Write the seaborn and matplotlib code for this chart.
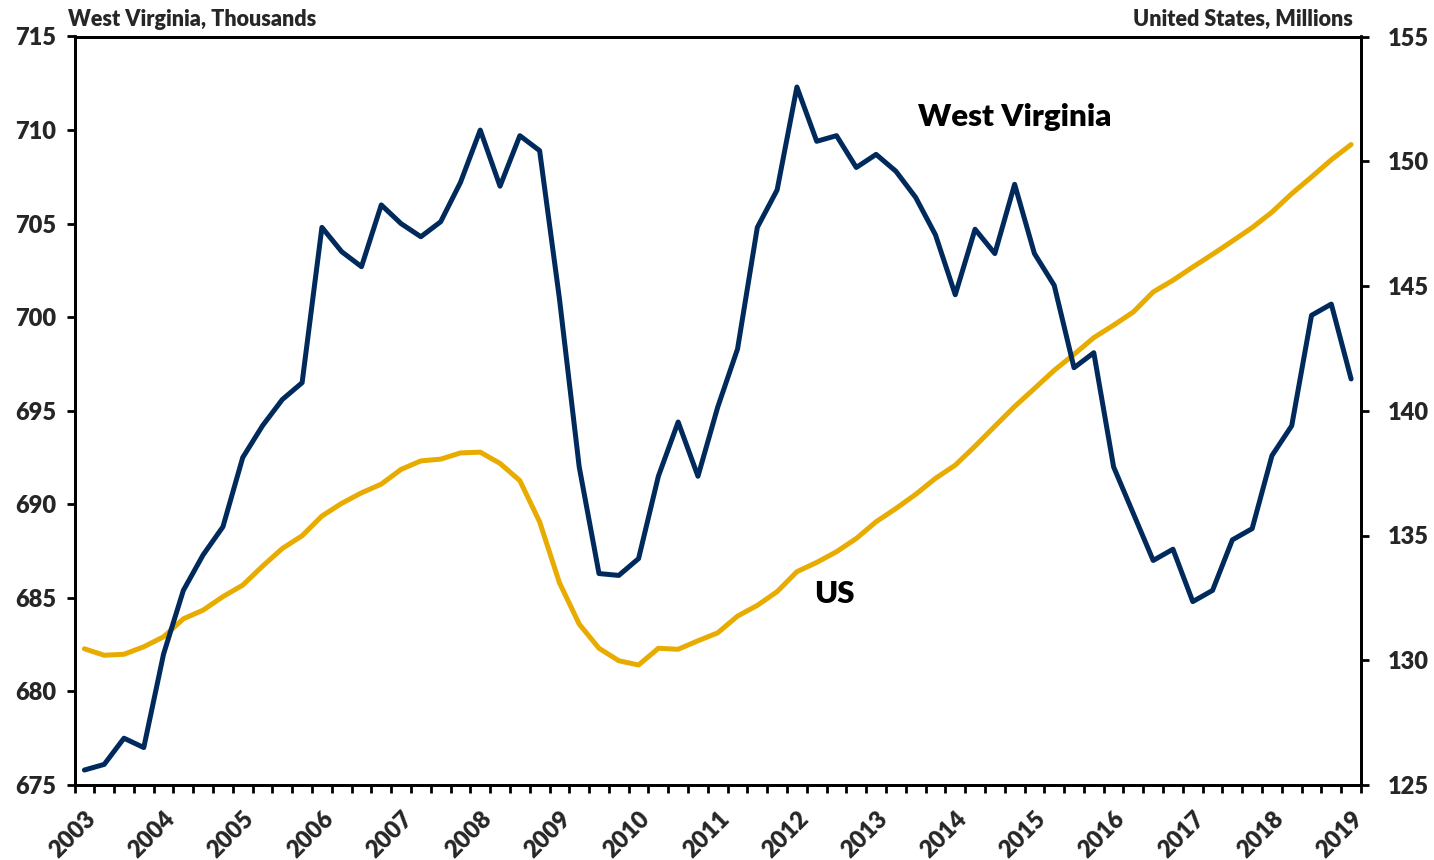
import matplotlib
matplotlib.use("Agg")
import matplotlib.pyplot as plt
import seaborn as sns
import numpy as np
import pandas as pd
from matplotlib.ticker import FixedLocator, FixedFormatter

# ---- data (quarterly, 2003Q1 .. 2019Q1) ----
years = list(range(2003, 2020))
wv_thousands = [
    675.8, 676.1, 677.5, 677.0, 682.0, 685.4, 687.3, 688.8,
    692.5, 694.2, 695.6, 696.5, 704.8, 703.5, 702.7, 706.0,
    705.0, 704.3, 705.1, 707.2, 710.0, 707.0, 709.7, 708.9,
    701.0, 692.0, 686.3, 686.2, 687.1, 691.5, 694.4, 691.5,
    695.2, 698.3, 704.8, 706.8, 712.3, 709.4, 709.7, 708.0,
    708.7, 707.8, 706.4, 704.4, 701.2, 704.7, 703.4, 707.1,
    703.4, 701.7, 697.3, 698.1, 692.0, 689.5, 687.0, 687.6,
    684.8, 685.4, 688.1, 688.7, 692.6, 694.2, 700.1, 700.7,
    696.7,
]
us_millions = [
    130.46, 130.20, 130.24, 130.54, 130.94, 131.66, 132.01, 132.55,
    133.01, 133.77, 134.48, 134.99, 135.78, 136.29, 136.71, 137.06,
    137.65, 137.99, 138.06, 138.31, 138.34, 137.89, 137.20, 135.55,
    133.11, 131.45, 130.48, 129.98, 129.81, 130.48, 130.44, 130.78,
    131.10, 131.77, 132.20, 132.75, 133.55, 133.92, 134.35, 134.88,
    135.55, 136.08, 136.65, 137.29, 137.82, 138.58, 139.38, 140.17,
    140.89, 141.62, 142.26, 142.93, 143.43, 143.96, 144.76, 145.23,
    145.76, 146.27, 146.80, 147.34, 147.96, 148.70, 149.37, 150.06,
    150.67,
]
left_ticks = [675, 680, 685, 690, 695, 700, 705, 710, 715]
right_ticks = [125, 130, 135, 140, 145, 150, 155]

n = len(wv_thousands)
df = pd.DataFrame({"q": np.arange(n), "wv": wv_thousands, "us": us_millions})

NAVY = "#002a5c"
GOLD = "#e8ab00"
FONT = "Lato"
W = "heavy"

sns.set_theme(style="white")
plt.rcParams["font.family"] = [FONT, "DejaVu Sans"]
plt.rcParams["font.weight"] = "bold"

fig = plt.figure(figsize=(14.34, 8.6), dpi=100)
ax = fig.add_axes([74.5 / 1434, 1 - 785 / 860, (1361 - 74.5) / 1434, (785 - 36.5) / 860])
ax2 = ax.twinx()

sns.lineplot(data=df, x="q", y="us", ax=ax2, color=GOLD, linewidth=3.6, zorder=2)
sns.lineplot(data=df, x="q", y="wv", ax=ax, color=NAVY, linewidth=3.6, zorder=3)
ax.set_zorder(ax2.get_zorder() + 1)
ax.patch.set_visible(False)

ax.set_xlim(-0.5, n - 0.5)
ax.set_ylim(675, 715)
ax2.set_ylim(125, 155)

ax.set_xlabel("")
ax.set_ylabel("")
ax2.set_xlabel("")
ax2.set_ylabel("")

# x ticks: labels at each year, tick marks at quarter boundaries
ax.xaxis.set_major_locator(FixedLocator([4 * i for i in range(len(years))]))
ax.xaxis.set_major_formatter(FixedFormatter([str(y) for y in years]))
ax.xaxis.set_minor_locator(FixedLocator(np.arange(-0.5, n, 1.0)))
ax.tick_params(axis="x", which="major", length=0, pad=16, labelsize=17)
ax.tick_params(axis="x", which="minor", length=6, width=2, direction="out", color="black", bottom=True)
for lab in ax.get_xticklabels():
    lab.set_rotation(45)
    lab.set_ha("right")
    lab.set_rotation_mode("anchor")
    lab.set_fontweight(W)

ax.set_yticks(left_ticks)
ax.set_yticklabels([str(v) for v in left_ticks])
ax.tick_params(axis="y", which="major", length=6, width=2, direction="out", color="black",
               pad=7, labelsize=17, left=True)
ax2.set_yticks(right_ticks)
ax2.set_yticklabels([str(v) for v in right_ticks])
ax2.tick_params(axis="y", which="major", length=6, width=2, direction="out", color="black",
                pad=13, labelsize=17, right=True)
for lab in ax.get_yticklabels() + ax2.get_yticklabels():
    lab.set_fontweight(W)

for a in (ax, ax2):
    for s in a.spines.values():
        s.set_visible(True)
        s.set_color("black")
        s.set_linewidth(2)
ax2.grid(False)
ax.grid(False)

ax.text(47.0, 710.7, "West Virginia", fontsize=22.5, fontweight=W, ha="center", va="center",
        color="black")
ax.text(37.9, 685.2, "US", fontsize=22.5, fontweight=W, ha="center", va="center", color="black")

fig.text(68 / 1434, 1 - 26 / 860, "West Virginia, Thousands", fontsize=15.5, fontweight=W,
         ha="left", va="baseline")
fig.text(1353 / 1434, 1 - 26 / 860, "United States, Millions", fontsize=15.5, fontweight=W,
         ha="right", va="baseline")

fig.savefig("out.png", dpi=100, facecolor="white")
